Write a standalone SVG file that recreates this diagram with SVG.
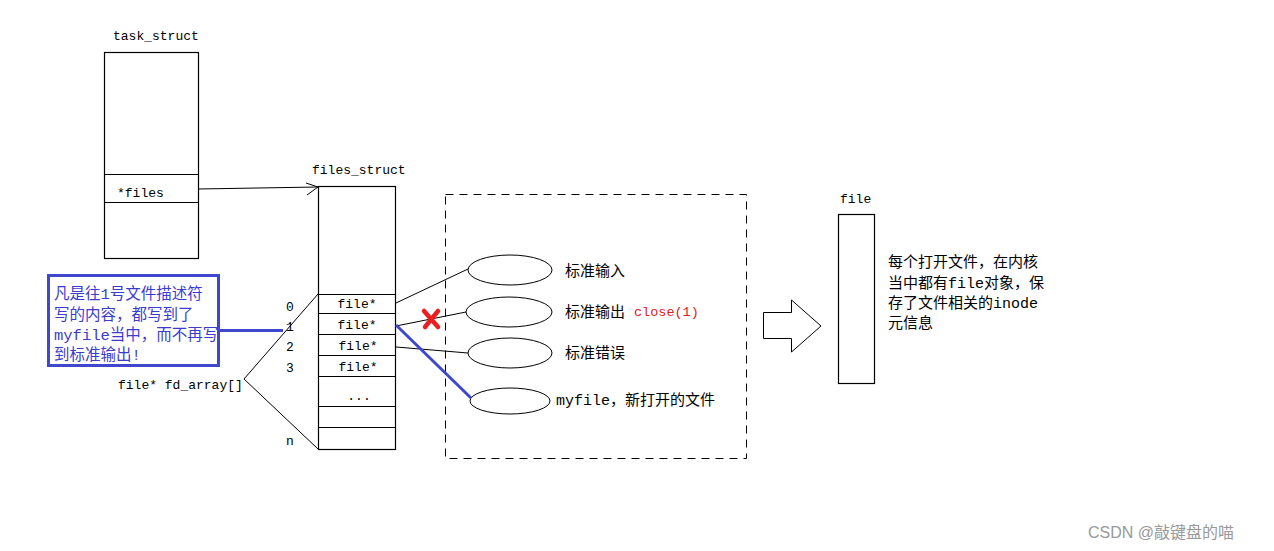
<svg xmlns="http://www.w3.org/2000/svg" width="1274" height="551" viewBox="0 0 1274 551">
<style>
.bx{fill:none;stroke:#000;stroke-width:1.2}
.ln{fill:none;stroke:#000;stroke-width:1}
.mono{font-family:"Liberation Mono","Noto Sans CJK SC",monospace;font-size:13px;fill:#000}
.cjk{font-family:"Liberation Mono","Noto Sans CJK SC",monospace;font-size:15px;fill:#000}
.blue{font-family:"Liberation Mono","Noto Sans CJK SC",monospace;font-size:15.5px;fill:#3b3bd0}
.blueln{fill:none;stroke:#3f48cc;stroke-width:3}
</style>
<rect width="1274" height="551" fill="#fff"/>

<g id="task_struct">
<text class="mono" x="113" y="40">task_struct</text>
<rect class="bx" x="104.5" y="52.5" width="94" height="206"/>
<line class="ln" x1="104" y1="174.5" x2="198" y2="174.5"/>
<line class="ln" x1="104" y1="202.5" x2="198" y2="202.5"/>
<text class="mono" x="117" y="197">*files</text>
</g>

<g id="files_struct">
<text class="mono" x="312" y="174">files_struct</text>
<rect class="bx" x="318.5" y="186.5" width="77" height="263"/>
<line class="ln" x1="318" y1="294.5" x2="396" y2="294.5"/>
<line class="ln" x1="318" y1="313.5" x2="396" y2="313.5"/>
<line class="ln" x1="318" y1="334.5" x2="396" y2="334.5"/>
<line class="ln" x1="318" y1="355.5" x2="396" y2="355.5"/>
<line class="ln" x1="318" y1="376.5" x2="396" y2="376.5"/>
<line class="ln" x1="318" y1="406.5" x2="396" y2="406.5"/>
<line class="ln" x1="318" y1="427.5" x2="396" y2="427.5"/>
<text class="mono" x="357" y="308" text-anchor="middle">file*</text>
<text class="mono" x="357" y="329" text-anchor="middle">file*</text>
<text class="mono" x="358" y="350" text-anchor="middle">file*</text>
<text class="mono" x="358" y="371" text-anchor="middle">file*</text>
<text class="mono" x="359" y="400" text-anchor="middle">...</text>
</g>

<g id="fd_array">
<text class="mono" x="286" y="311">0</text>
<text class="mono" x="286" y="331">1</text>
<text class="mono" x="286" y="351">2</text>
<text class="mono" x="286" y="372">3</text>
<text class="mono" x="286" y="445">n</text>
<text class="mono" x="118" y="389">file* fd_array[]</text>
</g>

<g id="note">
<rect x="48.5" y="275.5" width="170" height="90" fill="none" stroke="#3f48cc" stroke-width="3"/>
<text class="blue" x="54" y="299">凡是往1号文件描述符</text>
<text class="blue" x="54" y="320">写的内容，都写到了</text>
<text class="blue" x="54" y="340">myfile当中，而不再写</text>
<text class="blue" x="54" y="360">到标准输出!</text>
</g>

<g id="kernel_box">
<rect x="445.5" y="194.5" width="301" height="264" fill="none" stroke="#000" stroke-width="1" stroke-dasharray="8,6"/>
</g>

<g id="stdin">
<ellipse class="ln" cx="510" cy="270" rx="42" ry="15"/>
<text class="cjk" x="565" y="276">标准输入</text>
</g>
<g id="stdout">
<ellipse class="ln" cx="509" cy="312" rx="43" ry="15"/>
<text class="cjk" x="565" y="317">标准输出</text>
<text x="634" y="316" font-family="Liberation Mono,monospace" font-size="13.5" fill="#e02020">close(1)</text>
</g>
<g id="stderr">
<ellipse class="ln" cx="510" cy="353" rx="42" ry="15"/>
<text class="cjk" x="565" y="358">标准错误</text>
</g>
<g id="myfile">
<ellipse class="ln" cx="510" cy="401" rx="40" ry="13"/>
<text class="cjk" x="556" y="405">myfile，新打开的文件</text>
</g>

<g id="file">
<text class="mono" x="840" y="203">file</text>
<rect class="bx" x="838.5" y="214.5" width="36" height="169"/>
<text class="cjk" x="888" y="267">每个打开文件，在内核</text>
<text class="cjk" x="888" y="288">当中都有file对象，保</text>
<text class="cjk" x="888" y="308">存了文件相关的inode</text>
<text class="cjk" x="888" y="328">元信息</text>
</g>

<g id="big_arrow">
<polygon points="763.5,312.5 791.5,312.5 791.5,300 821,326 791.5,352 791.5,338.5 763.5,338.5" fill="#fff" stroke="#000" stroke-width="1"/>
</g>

<g id="connectors">
<line class="ln" x1="198" y1="189" x2="318" y2="187"/>
<polyline class="ln" points="306,183 318,187 307,195"/>
<line class="ln" x1="244" y1="379" x2="318" y2="294"/>
<line class="ln" x1="244" y1="379" x2="318" y2="449"/>
<line class="ln" x1="396" y1="303" x2="468" y2="269"/>
<line class="ln" x1="396" y1="326" x2="466" y2="312"/>
<line class="ln" x1="396" y1="347" x2="468" y2="353"/>
<line class="blueln" x1="396" y1="325" x2="471" y2="398"/>
<line class="blueln" x1="219" y1="330.5" x2="283" y2="330.5"/>
<g stroke="#e82020" stroke-width="4.5" stroke-linecap="round">
<line x1="424" y1="311" x2="438" y2="327"/>
<line x1="438" y1="311" x2="425" y2="327"/>
</g>
</g>

<text x="1088" y="538" font-family="Liberation Sans,Noto Sans CJK SC,sans-serif" font-size="16" fill="#999">CSDN @敲键盘的喵</text>
</svg>
